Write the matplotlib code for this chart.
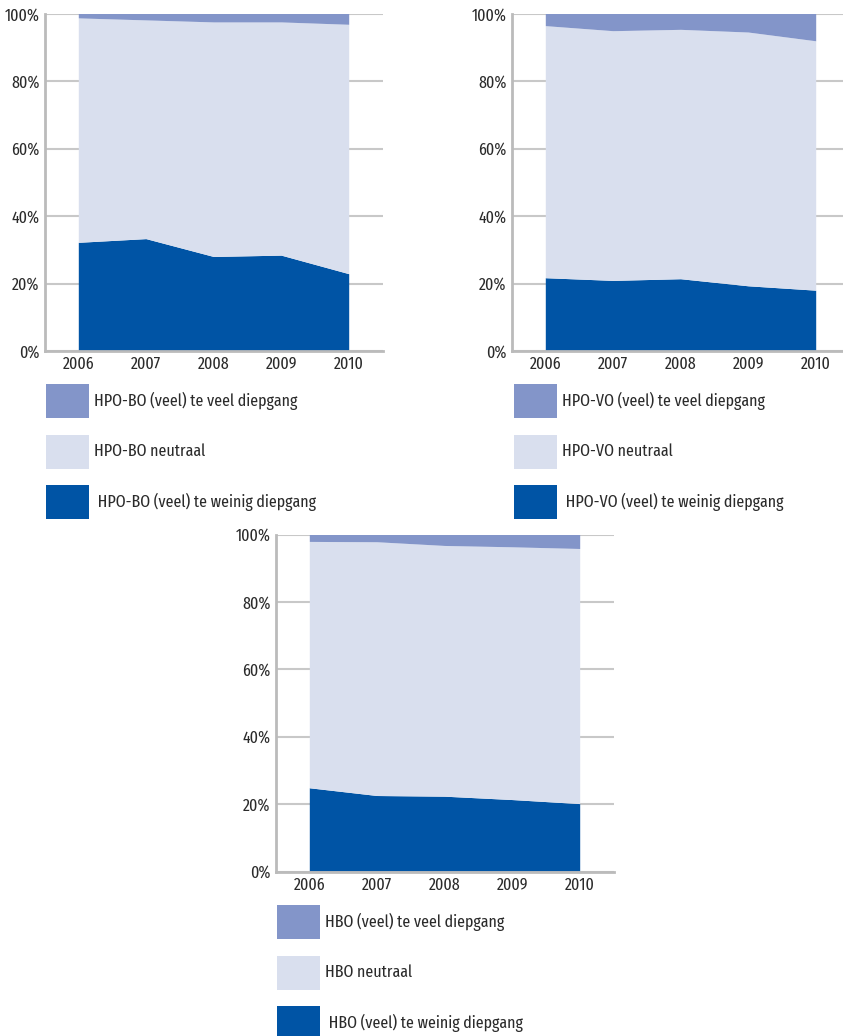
import numpy as np
import matplotlib
matplotlib.use("Agg")
import matplotlib.pyplot as plt
from matplotlib.patches import Rectangle

plt.rcParams['font.family'] = ['Fira Sans Extra Condensed', 'DejaVu Sans']

# Data (percentages)
years = [2006, 2007, 2008, 2009, 2010]

bo_weinig = [32.1, 33.2, 27.9, 28.3, 22.8]
bo_veel = [1.3, 1.9, 2.5, 2.5, 3.2]

vo_weinig = [21.6, 20.8, 21.3, 19.2, 17.9]
vo_veel = [3.6, 5.1, 4.7, 5.5, 8.1]

hbo_weinig = [24.7, 22.4, 22.2, 21.2, 20.0]
hbo_veel = [2.2, 2.3, 3.4, 3.8, 4.3]

labels_bo = ["HPO-BO (veel) te veel diepgang", "HPO-BO neutraal", " HPO-BO (veel) te weinig diepgang"]
labels_vo = ["HPO-VO (veel) te veel diepgang", "HPO-VO neutraal", " HPO-VO (veel) te weinig diepgang"]
labels_hbo = ["HBO (veel) te veel diepgang", "HBO neutraal", " HBO (veel) te weinig diepgang"]

# Colours
c_veel = '#8395C9'
c_neutraal = '#D9DFEE'
c_weinig = '#0054A5'
grid_color = '#C8C8C8'
text_color = '#2B2B2B'
fsize = 12.5

W, H = 843, 1036
fig = plt.figure(figsize=(W / 100, H / 100), dpi=100)


def px_axes(left, top, right, bottom):
    return fig.add_axes([left / W, 1 - bottom / H, (right - left) / W, (bottom - top) / H])


def draw_panel(ax, weinig, veel):
    weinig = np.array(weinig)
    veel = np.array(veel)
    neutraal = 100 - weinig - veel
    ax.stackplot(years, weinig, neutraal, veel,
                 colors=[c_weinig, c_neutraal, c_veel], linewidth=0, zorder=2)
    ax.set_xlim(2005.5, 2010.5)
    ax.set_ylim(0, 100)
    ax.set_xticks(years)
    ax.set_xticklabels([str(y) for y in years])
    ax.set_yticks([0, 20, 40, 60, 80, 100])
    ax.set_yticklabels(['0%', '20%', '40%', '60%', '80%', '100%'])
    ax.yaxis.grid(True, color=grid_color, linewidth=1.5, zorder=0)
    ax.set_axisbelow(True)
    ax.tick_params(length=0, labelsize=fsize, colors=text_color, pad=4)
    for s in ['top', 'right']:
        ax.spines[s].set_visible(False)
    for s in ['left', 'bottom']:
        ax.spines[s].set_color('#BBBBBB')
        ax.spines[s].set_linewidth(2)
    ax.margins(0)


def draw_legend(x0, y0, labels):
    cols = [c_veel, c_neutraal, c_weinig]
    for i, (lab, col) in enumerate(zip(labels, cols)):
        top = y0 + i * 50.7
        fig.patches.append(Rectangle((x0 / W, 1 - (top + 34) / H), 43 / W, 34 / H,
                                     transform=fig.transFigure, color=col, linewidth=0))
        fig.text((x0 + 48) / W, 1 - (top + 17) / H, lab, fontsize=fsize,
                 color=text_color, va='center', ha='left')


ax1 = px_axes(45, 14, 383, 351)
draw_panel(ax1, bo_weinig, bo_veel)
draw_legend(46, 384, labels_bo)

ax2 = px_axes(512, 14, 850, 351)
draw_panel(ax2, vo_weinig, vo_veel)
draw_legend(514, 384, labels_vo)

ax3 = px_axes(276, 534.5, 614, 871.5)
draw_panel(ax3, hbo_weinig, hbo_veel)
draw_legend(277, 905, labels_hbo)

fig.savefig('out.png', dpi=100)
